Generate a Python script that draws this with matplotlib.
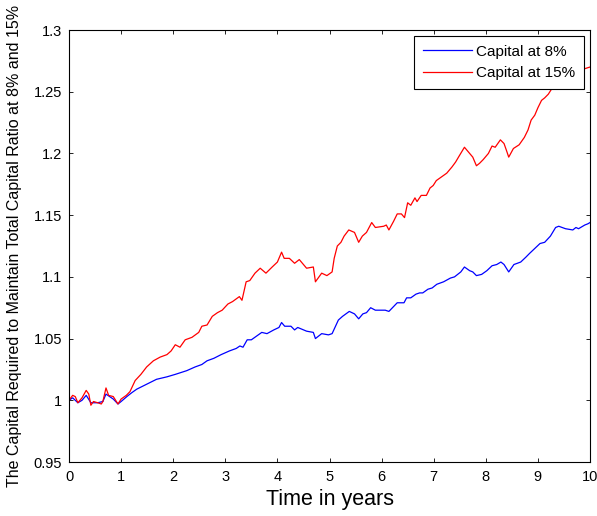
import numpy as np
import matplotlib.pyplot as plt
from matplotlib.ticker import FuncFormatter

plt.rcParams['font.family'] = ['Liberation Sans', 'DejaVu Sans']

# capital at 15% (red)
t_15 = [0.00, 0.07, 0.12, 0.17, 0.25, 0.33, 0.38, 0.42, 0.47, 0.55, 0.62, 0.65, 0.71, 0.76,
        0.85, 0.94, 1.00, 1.10, 1.17, 1.27, 1.38, 1.49, 1.62, 1.75, 1.88, 1.96, 2.04, 2.13,
        2.23, 2.36, 2.49, 2.55, 2.65, 2.75, 2.85, 2.94, 3.05, 3.14, 3.27, 3.32, 3.40, 3.47,
        3.57, 3.67, 3.78, 3.90, 4.00, 4.08, 4.13, 4.23, 4.33, 4.42, 4.56, 4.69, 4.73, 4.85,
        4.95, 5.05, 5.09, 5.15, 5.22, 5.28, 5.37, 5.48, 5.56, 5.63, 5.71, 5.81, 5.88, 6.04,
        6.09, 6.14, 6.23, 6.30, 6.38, 6.44, 6.50, 6.56, 6.64, 6.68, 6.76, 6.86, 6.93, 6.99,
        7.05, 7.15, 7.25, 7.35, 7.42, 7.49, 7.59, 7.65, 7.75, 7.82, 7.88, 7.95, 8.05, 8.12,
        8.18, 8.28, 8.35, 8.40, 8.44, 8.53, 8.64, 8.74, 8.81, 8.87, 8.94, 9.00, 9.07, 9.13,
        9.20, 9.26, 9.40, 9.55, 9.70, 9.85, 10.00]
cap_15 = [1.000, 1.004, 1.003, 0.998, 1.002, 1.008, 1.005, 0.996, 0.999, 0.998, 0.997, 0.999,
          1.010, 1.004, 1.003, 0.997, 1.001, 1.004, 1.007, 1.016, 1.021, 1.027, 1.032, 1.035,
          1.037, 1.040, 1.045, 1.043, 1.049, 1.051, 1.055, 1.060, 1.061, 1.068, 1.071, 1.073,
          1.078, 1.080, 1.084, 1.081, 1.096, 1.097, 1.103, 1.107, 1.103, 1.108, 1.112, 1.120,
          1.115, 1.115, 1.111, 1.114, 1.107, 1.108, 1.096, 1.103, 1.101, 1.104, 1.115, 1.125,
          1.128, 1.133, 1.138, 1.136, 1.128, 1.133, 1.136, 1.144, 1.140, 1.141, 1.142, 1.138,
          1.145, 1.151, 1.151, 1.148, 1.160, 1.158, 1.164, 1.161, 1.166, 1.166, 1.172, 1.174,
          1.178, 1.181, 1.184, 1.189, 1.193, 1.198, 1.205, 1.202, 1.197, 1.190, 1.192, 1.195,
          1.200, 1.206, 1.205, 1.211, 1.208, 1.202, 1.197, 1.204, 1.207, 1.213, 1.219, 1.227,
          1.231, 1.237, 1.243, 1.245, 1.248, 1.252, 1.258, 1.262, 1.266, 1.268, 1.270]

# capital at 8% (blue)
t_8 = [0.00, 0.07, 0.17, 0.25, 0.33, 0.42, 0.55, 0.65, 0.71, 0.85, 0.94, 1.00, 1.11, 1.20,
       1.30, 1.49, 1.68, 1.88, 2.04, 2.26, 2.42, 2.55, 2.65, 2.78, 2.92, 3.08, 3.21, 3.28,
       3.34, 3.42, 3.50, 3.60, 3.70, 3.80, 3.93, 4.03, 4.08, 4.14, 4.26, 4.33, 4.39, 4.56,
       4.69, 4.73, 4.85, 4.98, 5.05, 5.17, 5.25, 5.38, 5.48, 5.56, 5.64, 5.71, 5.79, 5.88,
       6.07, 6.14, 6.30, 6.43, 6.48, 6.56, 6.66, 6.73, 6.79, 6.89, 6.97, 7.06, 7.19, 7.32,
       7.40, 7.52, 7.59, 7.69, 7.75, 7.82, 7.92, 8.02, 8.12, 8.21, 8.29, 8.35, 8.44, 8.54,
       8.67, 8.77, 8.84, 8.94, 9.04, 9.13, 9.24, 9.34, 9.40, 9.53, 9.67, 9.73, 9.78, 9.90,
       9.96, 10.00]
cap_8 = [1.000, 1.002, 0.998, 1.000, 1.004, 0.998, 0.998, 0.999, 1.005, 1.001, 0.997, 0.999,
         1.003, 1.006, 1.009, 1.013, 1.017, 1.019, 1.021, 1.024, 1.027, 1.029, 1.032, 1.034,
         1.037, 1.040, 1.042, 1.044, 1.043, 1.049, 1.049, 1.052, 1.055, 1.054, 1.057, 1.059,
         1.063, 1.060, 1.060, 1.057, 1.059, 1.056, 1.055, 1.050, 1.054, 1.053, 1.054, 1.065,
         1.068, 1.072, 1.070, 1.066, 1.070, 1.071, 1.075, 1.073, 1.073, 1.072, 1.079, 1.079,
         1.083, 1.083, 1.086, 1.087, 1.087, 1.090, 1.091, 1.094, 1.096, 1.099, 1.100, 1.104,
         1.108, 1.105, 1.104, 1.101, 1.102, 1.105, 1.109, 1.110, 1.112, 1.110, 1.104, 1.110,
         1.112, 1.116, 1.119, 1.123, 1.127, 1.128, 1.133, 1.140, 1.141, 1.139, 1.138, 1.140,
         1.139, 1.142, 1.143, 1.144]

x_ticks = np.arange(0, 11, 1)
y_ticks = [0.95, 1.0, 1.05, 1.1, 1.15, 1.2, 1.25, 1.3]

fig = plt.figure(figsize=(5.97, 5.16), dpi=100)
ax = fig.add_axes([69 / 597, 54 / 516, 521 / 597, 432 / 516])

ax.plot(t_8, cap_8, color='blue', lw=0.9, label='Capital at 8%')
ax.plot(t_15, cap_15, color='red', lw=0.9, label='Capital at 15%')

ax.set_xlim(0, 10)
ax.set_ylim(0.95, 1.3)
ax.set_xticks(x_ticks)
ax.set_yticks(y_ticks)
ax.yaxis.set_major_formatter(FuncFormatter(lambda v, p: ('%.2f' % v).rstrip('0').rstrip('.')))
ax.tick_params(direction='in', length=3, width=0.6, top=True, right=True, labelsize=10.5)
ax.tick_params(axis='x', pad=6)
ax.tick_params(axis='y', pad=5)
for s in ax.spines.values():
    s.set_linewidth(0.8)

ax.set_xlabel('Time in years', fontsize=15.5, labelpad=3)
ax.set_ylabel('The Capital Required to Maintain Total Capital Ratio at 8% and 15%',
              fontsize=11.5, labelpad=8)

leg = ax.legend(loc='upper right', fontsize=11, fancybox=False, framealpha=1,
                edgecolor='black', handlelength=3.2, handletextpad=0.3, borderpad=0.55,
                labelspacing=0.5, borderaxespad=0.4)
leg.get_frame().set_linewidth(0.8)

fig.savefig('out.png', dpi=100)
